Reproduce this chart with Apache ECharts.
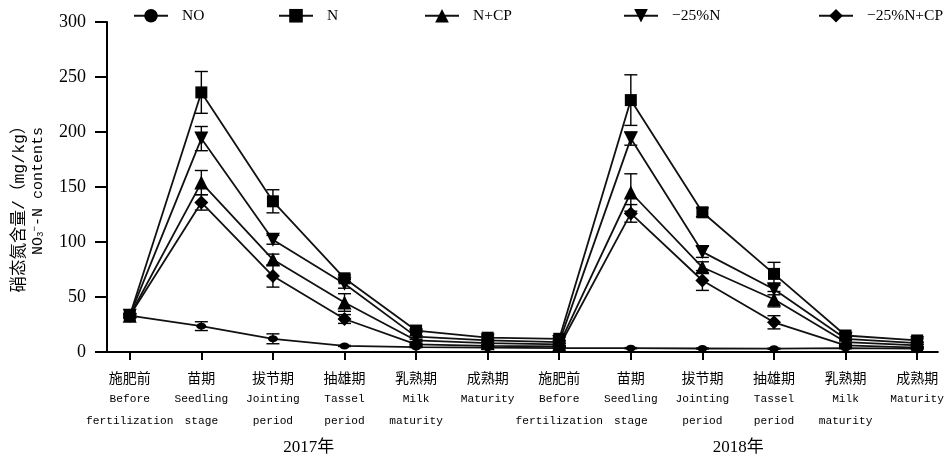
<!DOCTYPE html>
<html><head><meta charset="utf-8">
<script src="https://cdn.jsdelivr.net/npm/echarts@6/dist/echarts.min.js"></script>
<style>html,body{margin:0;padding:0;background:#fff}#c{width:947px;height:461px}</style>
</head><body><div id="c"></div>
<script>
// ---- data ----
const stagesCN = ['施肥前','苗期','拔节期','抽雄期','乳熟期','成熟期'];
const stagesEN1 = ['Before','Seedling','Jointing','Tassel','Milk','Maturity'];
const stagesEN2 = ['fertilization','stage','period','period','maturity',''];
const years = ['2017年','2018年'];
const yTicks = [0,50,100,150,200,250,300];
const seriesNames = ['NO','N','N+CP','−25%N','−25%N+CP'];

const NO      = [33, 23.5, 12, 5.5, 4.5, 4, 3.5, 3.5, 3.2, 3, 3.5, 3];
const NO_err  = [2, 4, 4.5, 0.5, 0.5, 0.5, 0.5, 0.5, 0.5, 0.5, 0.5, 0.5];
const N       = [33, 236, 137, 67, 19.5, 13, 12, 229, 127, 71, 15, 10.5];
const N_err   = [2, 19, 10.5, 3, 1.5, 1.5, 1.5, 23, 4, 10.5, 1.5, 1.5];
const NCP     = [33, 154, 84, 45, 10.5, 8, 7, 145, 77, 48, 9, 6];
const NCP_err = [1.5, 11, 5, 8, 1, 1, 1, 17, 5, 7, 1, 1];
const N25     = [33, 194, 102, 62, 14, 10.5, 9, 194, 91, 57, 12, 8];
const N25_err = [1.5, 11, 4, 4, 1, 1, 1, 6, 5, 5, 1, 1];
const N25CP     = [33, 136, 69, 30, 7, 5.5, 5, 126, 65, 27, 6, 4];
const N25CP_err = [1.5, 7, 10, 4, 1, 1, 1, 8, 9, 6, 1, 1];

const values = [NO, N, NCP, N25, N25CP];
const errs = [NO_err, N_err, NCP_err, N25_err, N25CP_err];
const symbols = ['circle','rect','triangle','triangle','diamond'];
const symSizes = [[10,7],12,14,14,14];
const symRot = [0,0,0,180,0];
const legendLeft = [133, 278, 424, 623, 818];

const idx = values[0].map((_, i) => i);
const chart = echarts.init(document.getElementById('c'), null, {renderer:'canvas'});

const series = [];
values.forEach((vals, s) => {
  series.push({
    name: seriesNames[s], type:'line',
    data: vals.map((v,i)=>[i,v]),
    symbol: symbols[s], symbolSize: symSizes[s], symbolRotate: symRot[s],
    showAllSymbol: true,
    itemStyle:{color:'#000'}, lineStyle:{color:'#111', width:1.8},
    z: 3, animation:false
  });
  series.push({
    name: 'err'+s, type:'custom',
    data: vals.map((v,i)=>[i, v-errs[s][i], v+errs[s][i]]),
    encode:{x:0, y:[1,2]},
    renderItem(params, api){
      const x = api.value(0);
      const lo = api.coord([x, api.value(1)]);
      const hi = api.coord([x, api.value(2)]);
      const w = 6.5, st = {stroke:'#000', lineWidth:1.4};
      return {type:'group', children:[
        {type:'line', shape:{x1:lo[0],y1:lo[1],x2:hi[0],y2:hi[1]}, style:st},
        {type:'line', shape:{x1:hi[0]-w,y1:hi[1],x2:hi[0]+w,y2:hi[1]}, style:st},
        {type:'line', shape:{x1:lo[0]-w,y1:lo[1],x2:lo[0]+w,y2:lo[1]}, style:st}
      ]};
    },
    z: 2, silent:true, animation:false
  });
});

const legends = seriesNames.map((n, s) => ({
  data:[n], left: legendLeft[s], top: 8, padding:0,
  itemWidth: 34, itemHeight: 17,
  textStyle:{fontFamily:'"Liberation Serif","Noto Sans CJK SC"', fontSize:15.5, color:'#000', padding:[0,0,0,9]},
  selectedMode:false
}));

const option = {
  backgroundColor:'#fff',
  animation:false,
  grid:{left:107, right:1, top:22, bottom:109, containLabel:false},
  legend: legends,
  xAxis:{
    type:'value', min:-0.318, max:11.29,
    axisLine:{show:true, onZero:false, lineStyle:{color:'#000', width:2}},
    axisTick:{show:true, customValues: idx, length:8, lineStyle:{color:'#000', width:2}},
    splitLine:{show:false},
    axisLabel:{
      customValues: idx, margin:15, color:'#000', showMinLabel:true, showMaxLabel:true, hideOverlap:false,
      formatter:(v)=>{
        const k = Math.round(v) % 6;
        let s = '{cn|'+stagesCN[k]+'}\n{en|'+stagesEN1[k]+'}';
        if (stagesEN2[k]) s += '\n{en|'+stagesEN2[k]+'}';
        return s;
      },
      rich:{
        cn:{fontFamily:'"Noto Sans CJK SC"', fontSize:14, lineHeight:21.5, color:'#000'},
        en:{fontFamily:'"Liberation Mono"', fontSize:11.2, lineHeight:21.5, color:'#000'}
      }
    }
  },
  yAxis:{
    type:'value', min:0, max:300, interval:50,
    axisLine:{show:true, onZero:false, lineStyle:{color:'#000', width:2}},
    axisTick:{show:true, length:12, lineStyle:{color:'#000', width:2}},
    splitLine:{show:false},
    axisLabel:{margin:21, color:'#000', fontSize:18, fontFamily:'"Liberation Serif"'}
  },
  series: series
};
chart.setOption(option);

const p1 = chart.convertToPixel({xAxisIndex:0}, 2.5);
const p2 = chart.convertToPixel({xAxisIndex:0}, 8.5);
chart.setOption({
  graphic:[
    {type:'text', x:p1, y:448, style:{text:years[0], fontSize:17, fontFamily:'"Liberation Serif","Noto Sans CJK SC"', fill:'#000', align:'center', verticalAlign:'middle'}},
    {type:'text', x:p2, y:448, style:{text:years[1], fontSize:17, fontFamily:'"Liberation Serif","Noto Sans CJK SC"', fill:'#000', align:'center', verticalAlign:'middle'}},
    {type:'text', x:20, y:205, rotation:Math.PI/2,
      style:{text:'硝态氮含量/（mg/kg）', fontSize:16.5, fontFamily:'"Liberation Mono","Noto Sans CJK SC"', fill:'#000', align:'center', verticalAlign:'middle'}},
    {type:'text', x:38, y:191, rotation:Math.PI/2,
      style:{text:'{a|NO}{b|3}{c|−}{a|-N contents}', align:'center', verticalAlign:'middle',
        rich:{
          a:{fontSize:15, fontFamily:'"Liberation Mono"', fill:'#000', verticalAlign:'middle'},
          b:{fontSize:9, fontFamily:'"Liberation Mono"', fill:'#000', verticalAlign:'bottom', padding:[6,0,0,0]},
          c:{fontSize:9, fontFamily:'"Liberation Mono"', fill:'#000', verticalAlign:'top', padding:[0,0,6,0]}
        }}}
  ]
});
</script></body></html>
